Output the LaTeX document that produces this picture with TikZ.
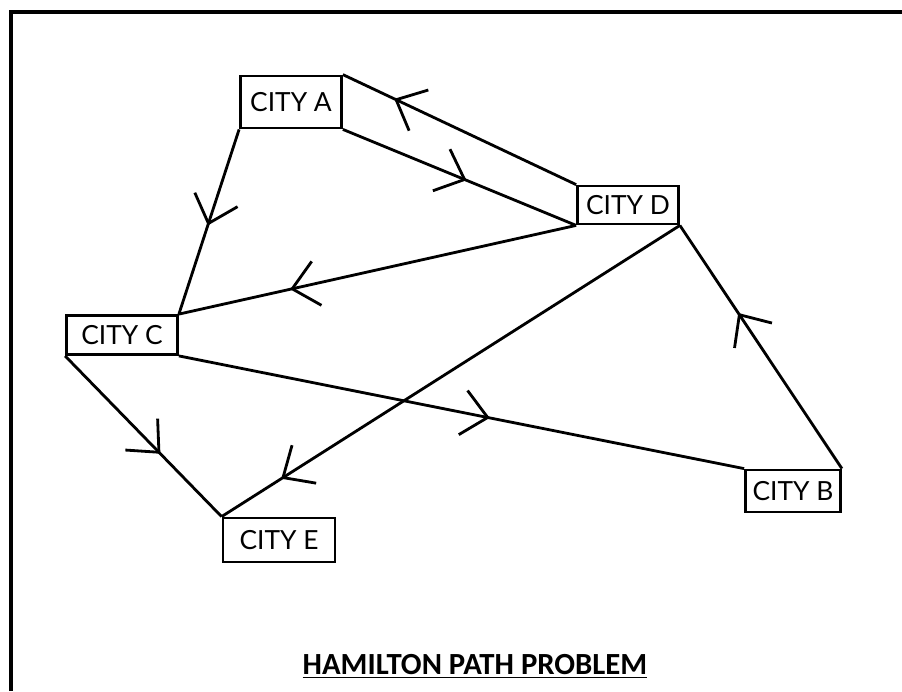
\documentclass[tikz,border=0pt]{standalone}
\usepackage{fontspec}
\setmainfont{Lato}
\newfontfamily\titlefont{Carlito}
\usetikzlibrary{arrows.meta,decorations.markings}

\begin{document}
\begin{tikzpicture}[x=0.02cm, y=-0.02cm, line width=1.6pt,
        city/.style={draw, line width=1.6pt, inner sep=0pt, minimum height=0.8cm, font=\fontsize{15}{17}\selectfont},
        midtip/.style={postaction={decorate, decoration={markings,
            mark=at position #1 with {\arrow{Straight Barb[length=0.5cm, width=0.9cm, line width=1.6pt]}}}}}]
        \useasboundingbox (0,0) rectangle (902,691);
        % frame (cut off at right and bottom)
        \draw[line width=2.2pt] (11,691) -- (11,12) -- (902,12);

            \node[city, minimum width=2.02cm, minimum height=1.04cm] (A) at (291,102) {CITY A};
            \node[city, minimum width=2.02cm, minimum height=0.76cm] (D) at (628,205) {CITY D};
            \node[city, minimum width=2.22cm, minimum height=0.78cm] (C) at (122,335) {CITY C};
            \node[city, minimum width=1.9cm, minimum height=0.84cm] (B) at (793,491) {CITY B};
            \node[city, minimum width=2.24cm, minimum height=0.88cm] (E) at (279,540) {CITY E};

            \draw[midtip=0.78] (D.north west) -- (A.north east);
            \draw[midtip=0.53] (A.south east) -- (D.south west);
            \draw[midtip=0.52] (A.south west) -- (C.north east);
            \draw[midtip=0.72] (D.south west) -- (C.north east);
            \draw[midtip=0.55] (C.south east) -- (B.north west);
            \draw[midtip=0.64] (B.north east) -- (D.south east);
            \draw[midtip=0.87] (D.south east) -- (E.north west);
            \draw[midtip=0.61] (C.south west) -- (E.north west);

            \node[font=\titlefont\bfseries\fontsize{17.5}{20}\selectfont] (T) at (475,666) {\underline{HAMILTON PATH PROBLEM}};
        \end{tikzpicture}
\end{document}
